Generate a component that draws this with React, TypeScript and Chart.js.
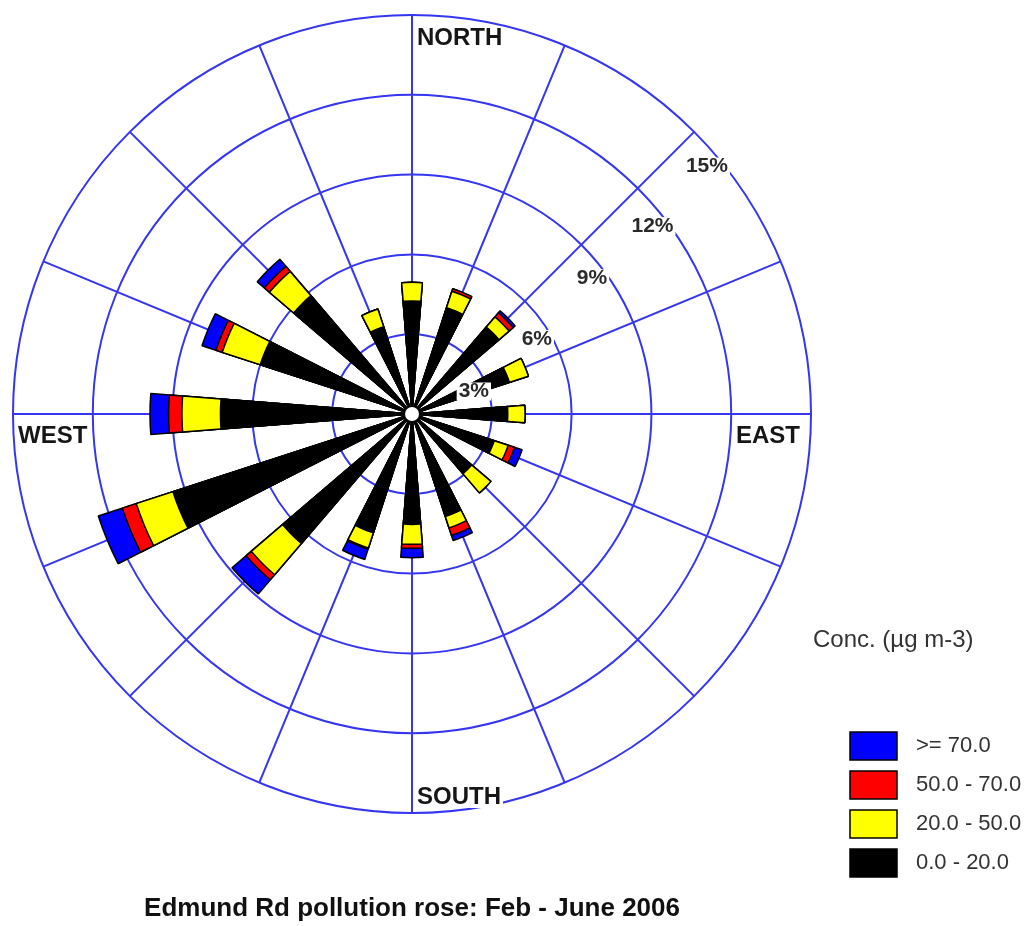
import React, { useEffect, useRef } from 'react';
import { Chart, registerables } from 'chart.js';

Chart.register(...registerables);

// ---- data (percent of time, per wind direction, per concentration band) ----
const directions = ['N', 'NNE', 'NE', 'ENE', 'E', 'ESE', 'SE', 'SSE', 'S', 'SSW', 'SW', 'WSW', 'W', 'WNW', 'NW', 'NNW'];
const conc0to20 = [4.25, 4.2, 4.3, 3.85, 3.6, 3.25, 2.95, 4.05, 4.15, 4.7, 6.4, 9.45, 7.2, 6.0, 5.85, 3.45];
const conc20to50 = [0.7, 0.65, 0.5, 0.75, 0.65, 0.55, 0.95, 0.45, 0.75, 0.6, 1.55, 1.45, 1.45, 1.5, 1.2, 0.7];
const conc50to70 = [0.0, 0.1, 0.2, 0.0, 0.0, 0.25, 0.0, 0.3, 0.15, 0.05, 0.25, 0.55, 0.5, 0.25, 0.25, 0.0];
const conc70plus = [0.0, 0.0, 0.1, 0.0, 0.0, 0.3, 0.0, 0.2, 0.35, 0.4, 0.7, 0.95, 0.7, 0.55, 0.35, 0.0];
const bandLabels = ['>= 70.0', '50.0 - 70.0', '20.0 - 50.0', '0.0 - 20.0'];
const ringTicks = [3, 6, 9, 12, 15];
const compassLabels = ['NORTH', 'EAST', 'SOUTH', 'WEST'];
const legendTitle = 'Conc. (\u00b5g m-3)';
const chartTitle = 'Edmund Rd pollution rose: Feb - June 2006';

// ---- styles ----
const BAND_COLORS = ['#0000ff', '#ff0000', '#ffff00', '#000000'];
const GRID_BLUE = '#3535f2';
const FONT = "'Liberation Sans', Arial, sans-serif";
const WEDGE_DEG = 9;
const GAP_DEG = (22.5 - WEDGE_DEG) / 2;

// cumulative stacks (inner band drawn on top of the outer ones)
const cum1 = conc0to20.map((v) => v);
const cum2 = cum1.map((v, i) => v + conc20to50[i]);
const cum3 = cum2.map((v, i) => v + conc50to70[i]);
const cum4 = cum3.map((v, i) => v + conc70plus[i]);

const slotLabels: string[] = [];
directions.forEach((d) => slotLabels.push('', d, ''));
const toSlots = (arr: number[]) => {
  const out: number[] = [];
  arr.forEach((v) => out.push(0, v, 0));
  return out;
};

const makeDataset = (label: string, values: number[], color: string) => ({
  label,
  data: toSlots(values),
  backgroundColor: (ctx: any) => (ctx.dataIndex % 3 === 1 ? color : 'rgba(0,0,0,0)'),
  borderColor: '#000000',
  borderWidth: (ctx: any) => (ctx.dataIndex % 3 === 1 ? 1.5 : 0),
  angle: (ctx: any) => (ctx.dataIndex % 3 === 1 ? WEDGE_DEG : GAP_DEG),
});

const roseDecor = {
  id: 'roseDecor',
  beforeDatasetsDraw(chart: any) {
    const s = chart.scales.r;
    const ctx = chart.ctx;
    const xc = s.xCenter;
    const yc = s.yCenter;
    const R = s.getDistanceFromCenterForValue(s.max);
    ctx.save();
    ctx.strokeStyle = GRID_BLUE;
    ctx.lineWidth = 2;
    for (let k = 0; k < directions.length; k++) {
      const a = (k * 2 * Math.PI) / directions.length;
      ctx.beginPath();
      ctx.moveTo(xc, yc);
      ctx.lineTo(xc + R * Math.sin(a), yc - R * Math.cos(a));
      ctx.stroke();
    }
    ctx.restore();
  },
  afterDatasetsDraw(chart: any) {
    const s = chart.scales.r;
    const ctx = chart.ctx;
    const xc = s.xCenter;
    const yc = s.yCenter;
    const R = s.getDistanceFromCenterForValue(s.max);
    ctx.save();
    // centre hole
    ctx.fillStyle = '#ffffff';
    ctx.beginPath();
    ctx.arc(xc, yc, 7, 0, Math.PI * 2);
    ctx.fill();

    ctx.textBaseline = 'middle';
    const boxed = (text: string, x: number, y: number, align: 'left' | 'right' | 'center', h: number, color: string) => {
      const w = ctx.measureText(text).width;
      const left = align === 'left' ? x : align === 'right' ? x - w : x - w / 2;
      ctx.fillStyle = '#ffffff';
      ctx.fillRect(left - 2, y - h / 2, w + 4, h);
      ctx.fillStyle = color;
      ctx.textAlign = align;
      ctx.fillText(text, x, y);
    };

    // compass labels
    ctx.font = `bold 24px ${FONT}`;
    boxed(compassLabels[0], xc + 5, yc - R + 23, 'left', 22, '#161616');
    boxed(compassLabels[1], xc + R - 11, yc + 22, 'right', 22, '#161616');
    boxed(compassLabels[2], xc + 5, yc + R - 16, 'left', 22, '#161616');
    boxed(compassLabels[3], xc - R + 5, yc + 22, 'left', 22, '#161616');

    // ring percentage labels
    const labelAngles = [70, 59, 53, 52, 50];
    ctx.font = `bold 21px ${FONT}`;
    ringTicks.forEach((t, i) => {
      const r = s.getDistanceFromCenterForValue(t) - 14;
      const a = (labelAngles[i] * Math.PI) / 180;
      boxed(`${t}%`, xc + r * Math.sin(a), yc - r * Math.cos(a), 'center', 18, '#2a2a2a');
    });

    // legend
    ctx.textAlign = 'left';
    ctx.font = `24px ${FONT}`;
    ctx.fillStyle = '#333333';
    ctx.fillText(legendTitle, 813, 640);
    ctx.font = `22px ${FONT}`;
    bandLabels.forEach((lab, i) => {
      const top = 732 + i * 39;
      ctx.fillStyle = BAND_COLORS[i];
      ctx.fillRect(850, top, 47, 28);
      ctx.strokeStyle = '#000000';
      ctx.lineWidth = 1.5;
      ctx.strokeRect(850, top, 47, 28);
      ctx.fillStyle = '#333333';
      ctx.fillText(lab, 916, top + 14);
    });
    ctx.restore();
  },
};

export default function App() {
  const ref = useRef<HTMLCanvasElement>(null);
  useEffect(() => {
    if (!ref.current) return;
    const chart = new Chart(ref.current, {
      type: 'polarArea',
      data: {
        labels: slotLabels,
        datasets: [
          makeDataset(bandLabels[3], cum1, BAND_COLORS[3]),
          makeDataset(bandLabels[2], cum2, BAND_COLORS[2]),
          makeDataset(bandLabels[1], cum3, BAND_COLORS[1]),
          makeDataset(bandLabels[0], cum4, BAND_COLORS[0]),
        ] as any,
      },
      options: {
        responsive: false,
        animation: false,
        devicePixelRatio: 1,
        layout: { padding: { left: 13, right: 213, top: 15, bottom: 1.4 } },
        scales: {
          r: {
            min: 0,
            max: 15,
            startAngle: -11.25,
            ticks: { stepSize: 3, display: false },
            grid: { color: GRID_BLUE, lineWidth: 2, circular: true },
            angleLines: { display: false },
            pointLabels: { display: false },
          },
        },
        plugins: {
          legend: { display: false },
          tooltip: { enabled: false },
          title: {
            display: true,
            text: chartTitle,
            position: 'bottom',
            color: '#111111',
            font: { family: FONT, size: 26, weight: 'bold', lineHeight: 1.2 },
            padding: { top: 80.4, bottom: 0 },
          },
        },
      } as any,
      plugins: [roseDecor],
    });
    return () => chart.destroy();
  }, []);
  return (
    <div style={{ position: 'absolute', left: 0, top: 0, width: 1024, height: 926, background: '#ffffff' }}>
      <canvas ref={ref} width={1024} height={926} style={{ display: 'block', width: 1024, height: 926 }} />
    </div>
  );
}
